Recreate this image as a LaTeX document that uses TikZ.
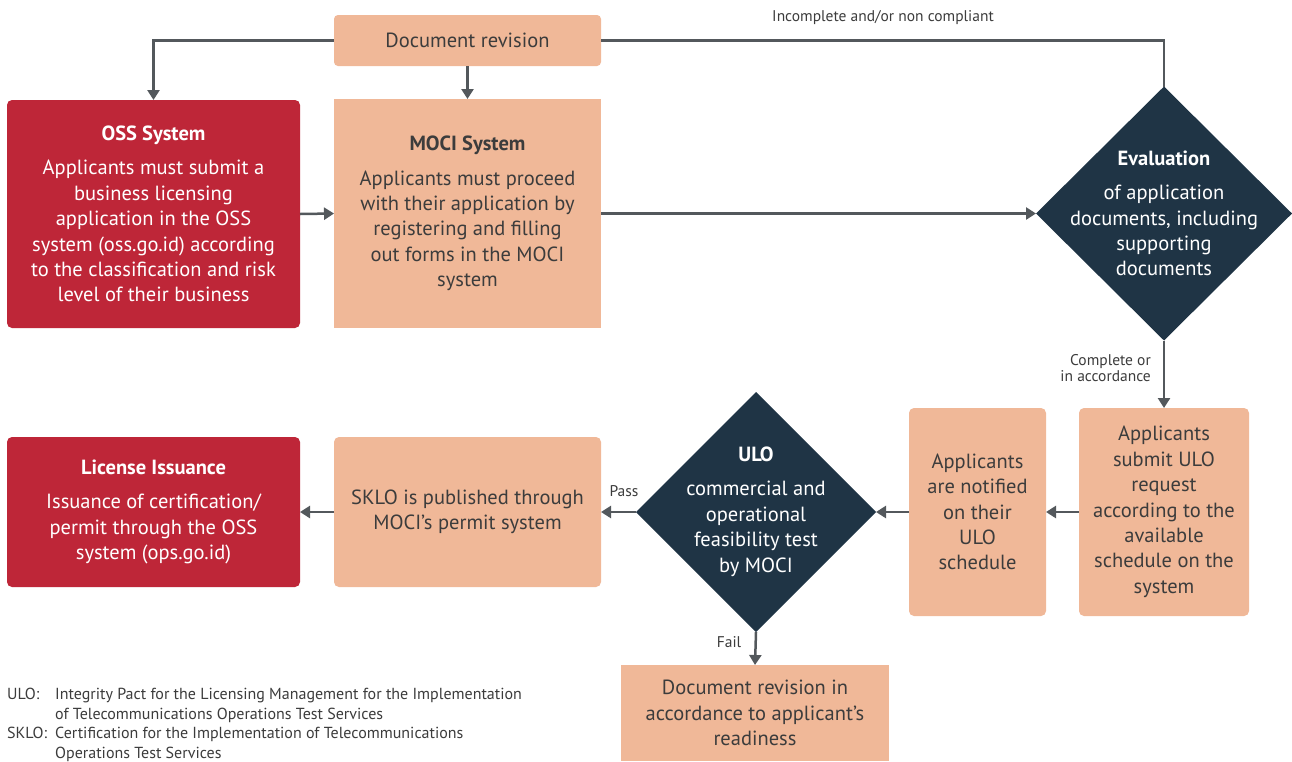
\documentclass[tikz,border=0pt]{standalone}
\usepackage{fontspec}
\setmainfont{PT Sans}
\usetikzlibrary{arrows.meta,shapes.geometric}
\definecolor{peach}{HTML}{F0B898}
\definecolor{brick}{HTML}{BE2638}
\definecolor{navy}{HTML}{1F3445}
\definecolor{arrowc}{HTML}{53585C}
\definecolor{txt}{HTML}{3C3C3C}
\begin{document}
\begin{tikzpicture}[x=1pt,y=-1pt,
  body/.style={font=\fontsize{20.5}{25.4}\selectfont, align=center, inner sep=0pt, outer sep=0pt},
  peachbox/.style={body, fill=peach, text=txt},
  redbox/.style={body, fill=brick, text=white, rounded corners=5pt},
  dia/.style={diamond, fill=navy, inner sep=0pt, outer sep=0pt},
  diatext/.style={body, text=white},
  arr/.style={draw=arrowc, line width=2.5pt, -{Triangle[length=10pt,width=12pt]}},
  plain/.style={draw=arrowc, line width=2.5pt},
  lbl/.style={font=\fontsize{15.5}{16.5}\selectfont, text=txt, inner sep=0pt},
  foot/.style={font=\fontsize{16}{19.5}\selectfont, text=txt, inner sep=0pt, align=left}
]
\useasboundingbox (0,0) rectangle (1292,761);
\fill[white] (0,0) rectangle (1292,761);

% top row
\node[peachbox, rounded corners=4pt, minimum width=267pt, minimum height=51pt] (docrev) at (467.5,40.5) {Document revision};
\node[redbox, minimum width=293pt, minimum height=228pt] (oss) at (153.5,214)
  {\textbf{OSS System}\\[9pt]Applicants must submit a\\business licensing\\application in the OSS\\system (oss.go.id) according\\to the classification and risk\\level of their business};
\node[peachbox, minimum width=267pt, minimum height=229pt] (moci) at (467.5,213.5)
  {\textbf{MOCI System}\\[9pt]Applicants must proceed\\with their application by\\registering and filling\\out forms in the MOCI\\system};
\node[dia, minimum width=256pt, minimum height=254pt] (eval) at (1164,213.5) {};
\node[diatext] (evaltxt) at (1164,213.5)
  {\textbf{Evaluation}\\[9pt]of application\\documents, including\\supporting\\documents};

% bottom row
\node[peachbox, rounded corners=5pt, minimum width=170pt, minimum height=208pt] (req) at (1164,512)
  {Applicants\\submit ULO\\request\\according to the\\available\\schedule on the\\system};
\node[peachbox, rounded corners=5pt, minimum width=137pt, minimum height=208pt] (notif) at (977.5,512)
  {Applicants\\are notified\\on their\\ULO\\schedule};
\node[dia, minimum width=240pt, minimum height=240pt] (ulo) at (756,512) {};
\node[diatext] (ulotxt) at (756,511.5)
  {\textbf{ULO}\\[9pt]commercial and\\operational\\feasibility test\\by MOCI};
\node[peachbox, rounded corners=5pt, minimum width=267pt, minimum height=150pt] (sklo) at (467.5,512)
  {SKLO is published through\\MOCI's permit system};
\node[redbox, minimum width=293pt, minimum height=150pt] (lic) at (153.5,512)
  {\textbf{License Issuance}\\[9pt]Issuance of certification/\\permit through the OSS\\system (ops.go.id)};
\node[peachbox, minimum width=268pt, minimum height=96pt] (fail) at (755,713)
  {Document revision in\\accordance to applicant's\\readiness};

% connectors
\draw[arr] (docrev.west) -| (oss.north);
\draw[arr] (docrev.south) -- (moci.north);
\draw[plain] (docrev.east) -| (eval.north);
\node[lbl] (lincomp) at (883,18) {Incomplete and/or non compliant};
\draw[arr] (oss.east) -- (moci.west);
\draw[arr] (moci.east) -- (eval.west);
\draw[arr] (eval.south) -- (req.north);
\node[lbl, anchor=east, align=right] (lcomp) at (1151,368) {Complete or\\in accordance};
\draw[arr] (req.west) -- (notif.east);
\draw[arr] (notif.west) -- (ulo.east);
\draw[arr] (ulo.west) -- (sklo.east);
\node[lbl] (lpass) at (624,491) {Pass};
\draw[arr] (sklo.west) -- (lic.east);
\draw[arr] (ulo.south) -- (fail.north);
\node[lbl] (lfail) at (729,642) {Fail};

% footnotes
\node[foot, anchor=north west] (f1) at (7,688) {ULO:};
\node[foot, anchor=north west] (f1t) at (55,688) {Integrity Pact for the Licensing Management for the Implementation\\of Telecommunications Operations Test Services};
\node[foot, anchor=north west] (f2) at (7,727) {SKLO:};
\node[foot, anchor=north west] (f2t) at (55,727) {Certification for the Implementation of Telecommunications\\Operations Test Services};
\end{tikzpicture}
\end{document}
